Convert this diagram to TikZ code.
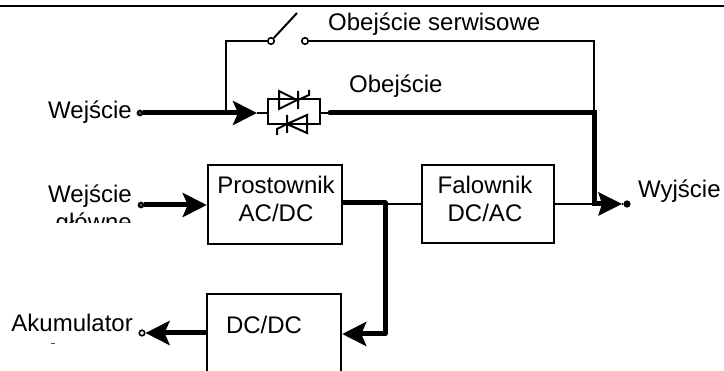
\documentclass[tikz,border=0pt]{standalone}
\usepackage{fontspec}
\setmainfont{Liberation Sans}
\usetikzlibrary{arrows.meta}
\tikzset{
  x=1pt,y=-1pt,
  thinw/.style={draw=black,line width=2pt},
  thickw/.style={draw=black,line width=5pt},
  blockbox/.style={draw=black,line width=2.5pt,fill=white,inner sep=0pt},
  lab/.style={inner sep=0pt,align=center,font=\fontsize{24}{28}\selectfont,text=black},
  term/.style={circle,draw=black,line width=1.6pt,fill=white,minimum size=5pt,inner sep=0pt},
  tip/.style={-{Triangle[length=24pt,width=24pt,inset=5pt]}},
}
\begin{document}
\begin{tikzpicture}
\useasboundingbox (0,0) rectangle (724,371);
\clip (0,0) rectangle (724,371);
\fill[white] (0,0) rectangle (724,371);
\coordinate (tl) at (0,6); \coordinate (tr) at (724,6);
\draw[black,line width=2pt] (tl) -- (tr);

% blocks
\node[blockbox,minimum width=134pt,minimum height=79pt] (rect) at (275,204.5) {};
\node[blockbox,minimum width=132pt,minimum height=78pt] (inv) at (488,204) {};
\node[blockbox,minimum width=134pt,minimum height=100pt] (conv) at (274,344) {};
\node[lab,anchor=base] (t1) at (276,194) {Prostownik};
\node[lab,anchor=base] (t2) at (276,222) {AC/DC};
\node[lab,anchor=base] (t3) at (485,194) {Falownik};
\node[lab,anchor=base] (t4) at (485,222) {DC/AC};
\node[lab,anchor=base] (t5) at (264,334) {DC/DC};

% terminals
\node[term,minimum size=5pt,fill=black!70] (in1) at (140,113) {};
\node[term,minimum size=5pt,fill=black!70] (in2) at (141,205) {};
\node[term,minimum size=5.5pt] (bat) at (142,333) {};
\node[term,minimum size=5.5pt,fill=black] (out) at (627,204) {};
\node[term,minimum size=6.5pt] (swa) at (271,41) {};
\node[term,minimum size=6.5pt] (swb) at (305,41) {};

% thyristor block
\node[draw=black,line width=2pt,minimum width=52pt,minimum height=25pt,inner sep=0pt] (thy) at (294,111.5) {};
\coordinate (swblade) at (297,13);
\coordinate (jl) at (226,113);
\coordinate (jr) at (594,113);
\coordinate (jo) at (594,204);
\coordinate (jc) at (385,203);
\coordinate (jd) at (385,334);
\coordinate (thickstart) at (330,113);

% bypass
\draw[thinw] (swa) -- (swblade);
\draw[thinw] (swa) -- (226,41) -- (jl);
\draw[thinw] (swb) -- (594,41) -- (jr);
\draw[thinw] (thy.east |- jr) -- (thickstart);
\draw[thinw] (257,113) -- (thy.west |- jl);

% thick paths
\draw[thickw,tip] (in1) -- (257,113);
\draw[thickw,line join=miter,line cap=round] (thickstart) -- (jr) -- (jo) -- (603,204);
\draw[thinw] (inv.east |- jo) -- (jo);
\fill[black] (598,192) -- (622,204) -- (598,216) -- (602,204) -- cycle;
\draw[thinw] (622,204) -- (out);
\draw[thickw,tip] (in2) -- (rect.west |- in2);
\draw[thinw] (jc |- inv) -- (inv.west);
\draw[thickw,line join=round,tip] (rect.east |- jc) -- (jc) -- (jd) -- (conv.east |- jd);
\draw[thickw,tip] (conv.west |- bat) -- (bat);

% thyristors
\draw[black,line width=2pt] (279,91) -- (297,100) -- (279,109) -- cycle;
\draw[black,line width=2pt] (298,91) -- (298,109) (298,100) -- (309,95) -- (309,90);
\draw[black,line width=2pt] (307,115) -- (287,124) -- (307,133) -- cycle;
\draw[black,line width=2pt] (287,115) -- (287,133) (287,124) -- (277,129) -- (277,135);

% labels
\node[lab,anchor=base west] at (328,31) {Obejście serwisowe};
\node[lab,anchor=base west] at (349,93) {Obejście};
\node[lab,anchor=base east] at (132,119) {Wejście};
\node[lab,anchor=base east] at (132,203) {Wejście};
\begin{scope}
\clip (40,212) rectangle (140,223);
\node[lab,anchor=base east] at (132,231) {główne};
\end{scope}
\node[lab,anchor=base east] at (133,332) {Akumulator};
\draw[black!70,line width=0.7pt] (51,343.5) -- (55,343.5);
\node[lab,anchor=base west] at (638,198) {Wyjście};
\end{tikzpicture}
\end{document}
